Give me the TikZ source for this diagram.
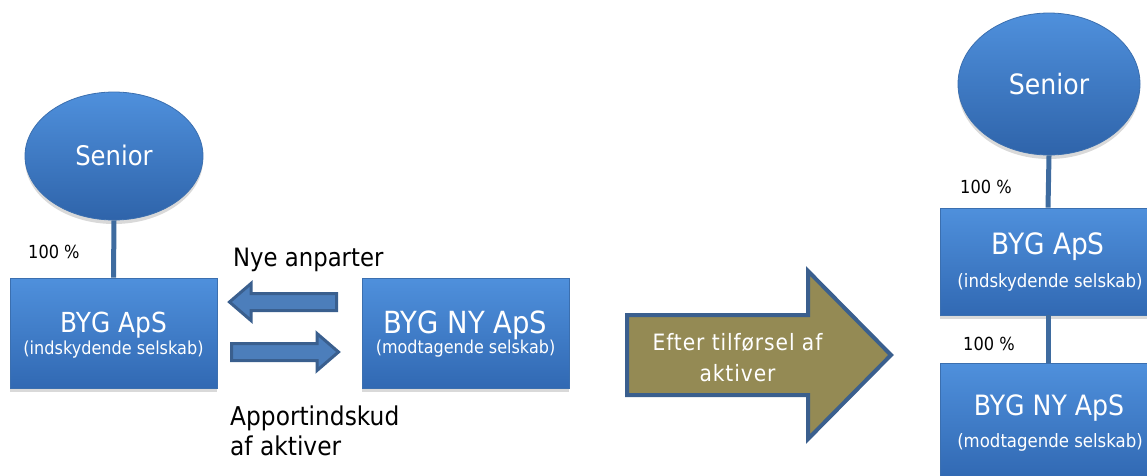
\documentclass[tikz,border=0pt]{standalone}
\usepackage{fontspec}
\setmainfont{DejaVu Sans}[FakeStretch=0.9]
\newfontfamily\spacedfont{DejaVu Sans}[FakeStretch=0.9,LetterSpace=4]
\usetikzlibrary{shapes.geometric,shadows}
\definecolor{boxtop}{HTML}{4F90DC}
\definecolor{boxbot}{HTML}{3169B3}
\definecolor{boxedge}{HTML}{3B6FAF}
\definecolor{linkcol}{HTML}{3E6B9F}
\definecolor{arrowfill}{HTML}{4C7EBB}
\definecolor{arrowedge}{HTML}{3A5F8E}
\definecolor{olivefill}{HTML}{948A54}
\newcommand\txtsize[1]{\fontsize{#1pt}{#1pt}\selectfont}

\begin{document}
\begin{tikzpicture}[x=1pt,y=-1pt,
  company/.style={rectangle, draw=boxedge, line width=0.8pt,
    top color=boxtop, bottom color=boxbot, inner sep=0pt,
    drop shadow={shadow xshift=0pt, shadow yshift=-4pt, opacity=0.3}},
  owner/.style={ellipse, draw=boxedge, line width=0.8pt,
    top color=boxtop, bottom color=boxbot!95!black, inner sep=0pt,
    drop shadow={shadow xshift=0pt, shadow yshift=-4pt, opacity=0.3}},
  title/.style={text=white, inner sep=0pt, anchor=base},
  label/.style={text=black, inner sep=0pt, anchor=base west},
  link/.style={draw=linkcol, line width=5pt},
  blockarrow/.style={fill=arrowfill, draw=arrowedge, line width=3pt, line join=miter},
  bigarrow/.style={fill=olivefill, draw=arrowedge, line width=4pt, line join=miter}]
\useasboundingbox (0,0) rectangle (1147,475);

% ---------- before: Senior owns BYG ApS ----------
\node[owner, minimum width=178pt, minimum height=128pt] (sen1) at (114,156) {};
\node[title, font=\txtsize{27}] (sen1t) at (114,165) {Senior};
\node[company, minimum width=207pt, minimum height=110pt] (byg1) at (113.5,333) {};
\node[title, font=\txtsize{27.6}] (byg1t) at (113.5,332) {BYG ApS};
\node[title, font=\txtsize{17.9}] (byg1s) at (113.5,354) {(indskydende selskab)};
\draw[link] (sen1.south) -- (byg1.north);
\node[label, font=\txtsize{18}] (p1) at (28,258) {100 \%};

% ---------- exchange between the two companies ----------
\node[company, minimum width=207pt, minimum height=110pt] (bygny) at (465.5,333) {};
\node[title, font=\txtsize{30.5}] (bygnyt) at (465.5,333) {BYG NY ApS};
\node[title, font=\txtsize{17.8}] (bygnys) at (465.5,353) {(modtagende selskab)};

\draw[blockarrow] (229.5,302) -- (251,283.5) -- (251,293.5) -- (336.5,293.5)
  -- (336.5,310.5) -- (251,310.5) -- (251,320.5) -- cycle;
\draw[blockarrow] (231.5,343.5) -- (317,343.5) -- (317,333.5) -- (338.5,352)
  -- (317,370.5) -- (317,360.5) -- (231.5,360.5) -- cycle;

\node[label, font=\txtsize{25.3}] (shares) at (233,266.7) {Nye anparter};
\node[label, font=\txtsize{25.9}] (contrib1) at (230,425) {Apportindskud};
\node[label, font=\txtsize{25.9}] (contrib2) at (230,455) {af aktiver};

% ---------- transition arrow ----------
\draw[bigarrow] (627,315) -- (808,315) -- (808,271) -- (891,355) -- (808,439)
  -- (808,395) -- (627,395) -- cycle;
\node[title, font=\spacedfont\txtsize{22.5}] (after1) at (737.5,350.7) {Efter tilførsel af};
\node[title, font=\spacedfont\txtsize{22.5}] (after2) at (737.5,381.7) {aktiver};

% ---------- after: Senior > BYG ApS > BYG NY ApS ----------
\node[owner, minimum width=182pt, minimum height=142pt] (sen2) at (1049,84) {};
\node[title, font=\txtsize{28}] (sen2t) at (1049,94) {Senior};
\node[company, minimum width=216pt, minimum height=107pt] (byg2) at (1048,261.5) {};
\node[title, font=\txtsize{29.4}] (byg2t) at (1048,254.3) {BYG ApS};
\node[title, font=\txtsize{18.4}] (byg2s) at (1050,287.7) {(indskydende selskab)};
\draw[link] (sen2.south) -- (byg2.north);
\node[label, font=\txtsize{18}] (p2) at (960,193) {100 \%};

\node[company, minimum width=216pt, minimum height=115pt] (byg3) at (1048,420.5) {};
\node[title, font=\txtsize{28}] (byg3t) at (1049,415) {BYG NY ApS};
\node[title, font=\txtsize{18.4}] (byg3s) at (1050,447.3) {(modtagende selskab)};
\node[fill=white, minimum width=97pt, minimum height=44pt, inner sep=0pt] (p3bg) at (988.5,340.5) {};
\node[label, font=\txtsize{18}] (p3) at (963,350) {100 \%};
\draw[link] (byg2.south) -- (byg3.north);
\end{tikzpicture}
\end{document}
